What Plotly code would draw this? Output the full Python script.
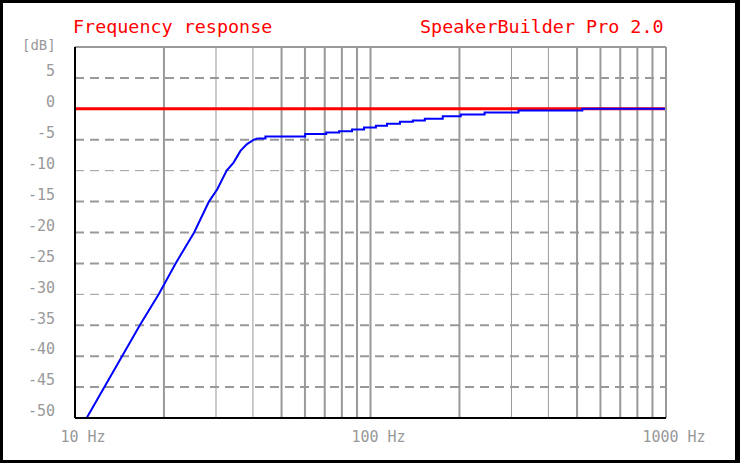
import plotly.graph_objects as go

# ---------------- data ----------------
# steep (high-pass) part of the response
steep_freq = [10.95, 12.55, 14.37, 16.57, 19.2, 21.9, 25.3, 28.4, 30.3, 32.6, 34.4, 36.3, 38.2, 40.3, 41.4]
steep_db = [-50, -45, -40, -35, -30, -25, -20, -15, -13.0, -10, -8.7, -6.8, -5.7, -5.0, -4.8]
# flat, stair-stepped part of the response
step_freq = [41.4, 44.1, 60.1, 70.8, 78.3, 86.6, 95.1, 104.3, 113.7, 125.8, 139.1,
             152.7, 175.6, 202.0, 243.3, 316.8, 521, 1000]
step_db = [-4.81, -4.48, -4.09, -3.83, -3.61, -3.35, -3.03, -2.75, -2.43, -2.10, -1.89,
           -1.62, -1.18, -0.92, -0.60, -0.28, 0.0, 0.0]
# 0 dB reference line
ref_freq = [10, 1000]
ref_db = [0, 0]

# axes / grid
x_ticks = [10, 100, 1000]
x_ticktext = ["10 Hz", "100 Hz", "1000 Hz"]
y_ticks = [-50, -45, -40, -35, -30, -25, -20, -15, -10, -5, 0, 5]
y_ticktext = ["-50", "-45", "-40", "-35", "-30", "-25", "-20", "-15", "-10", "-5", "0", "5"]
grid_thick_freq = [20, 50, 60, 70, 80, 90, 100, 200, 500, 600, 700, 800, 900]
grid_thin_freq = [30, 40, 300, 400]
grid_thick_db = [5, -5, -15, -20, -25, -35, -40, -45]
grid_thin_db = [-10, -30]
x_range = [10, 1000]
y_range = [-50, 10]

GRID = "#999999"
FONT = "DejaVu Sans Mono"


def vlines(freqs):
    xs, ys = [], []
    for f in freqs:
        xs += [f, f, None]
        ys += [y_range[0], y_range[1], None]
    return xs, ys


def hlines(dbs):
    xs, ys = [], []
    for d in dbs:
        xs += [x_range[0], x_range[1], None]
        ys += [d, d, None]
    return xs, ys


fig = go.Figure()

for dbs, w in [(grid_thick_db, 2), (grid_thin_db, 1)]:
    xs, ys = hlines(dbs)
    fig.add_trace(go.Scatter(x=xs, y=ys, mode="lines", hoverinfo="skip",
                             line=dict(color=GRID, width=w, dash="9px,6px")))
for freqs, w in [(grid_thick_freq, 2), (grid_thin_freq, 1)]:
    xs, ys = vlines(freqs)
    fig.add_trace(go.Scatter(x=xs, y=ys, mode="lines", hoverinfo="skip",
                             line=dict(color=GRID, width=w)))

fig.add_trace(go.Scatter(x=ref_freq, y=ref_db, mode="lines",
                         line=dict(color="#ff0000", width=3)))
fig.add_trace(go.Scatter(x=steep_freq, y=steep_db, mode="lines",
                         line=dict(color="#0000ff", width=2)))
fig.add_trace(go.Scatter(x=step_freq, y=step_db, mode="lines",
                         line=dict(color="#0000ff", width=2, shape="hv")))

W, H = 740, 463
L, R, T, B = 75, 74, 47, 45
pw, ph = W - L - R, H - T - B


def px(x):
    return (x - L) / pw


def py(y):
    return (H - B - y) / ph


shapes = [
    # white card on black background
    dict(type="rect", xref="paper", yref="paper", layer="below",
         x0=px(3), x1=px(735), y0=py(3), y1=py(460),
         fillcolor="white", line=dict(width=0)),
    # frame
    dict(type="line", xref="paper", yref="paper", layer="above",
         x0=0, x1=1, y0=1, y1=1, line=dict(color=GRID, width=2)),
    dict(type="line", xref="paper", yref="paper", layer="above",
         x0=1, x1=1, y0=0, y1=1, line=dict(color=GRID, width=2)),
    dict(type="line", xref="paper", yref="paper", layer="above",
         x0=0, x1=0, y0=0, y1=1, line=dict(color="black", width=2)),
    dict(type="line", xref="paper", yref="paper", layer="above",
         x0=0, x1=1, y0=0, y1=0, line=dict(color="black", width=2)),
]

annotations = [
    dict(text="Frequency response", xref="paper", yref="paper", x=0, y=1,
         xanchor="left", yanchor="middle", xshift=-4, yshift=21, showarrow=False,
         font=dict(family=FONT, size=18.4, color="#ff0000")),
    dict(text="SpeakerBuilder Pro 2.0", xref="paper", yref="paper", x=1, y=1,
         xanchor="right", yanchor="middle", xshift=0, yshift=21, showarrow=False,
         font=dict(family=FONT, size=18.4, color="#ff0000")),
    dict(text="[dB]", xref="paper", yref="paper", x=0, y=1,
         xanchor="right", yanchor="middle", xshift=-17, yshift=2, showarrow=False,
         font=dict(family=FONT, size=14, color=GRID)),
]

fig.update_layout(
    width=W, height=H,
    margin=dict(l=L, r=R, t=T, b=B, pad=0),
    paper_bgcolor="black",
    plot_bgcolor="white",
    showlegend=False,
    shapes=shapes,
    annotations=annotations,
    xaxis=dict(type="log", range=[1, 3], showgrid=False, zeroline=False,
               showline=False, tickvals=x_ticks, ticktext=x_ticktext,
               ticks="", ticklabelshift=8, ticklabelstandoff=8,
               tickfont=dict(family=FONT, size=15, color=GRID)),
    yaxis=dict(range=y_range, showgrid=False, zeroline=False, showline=False,
               tickvals=y_ticks, ticktext=y_ticktext, ticks="",
               ticklabelshift=-7, ticklabelstandoff=19,
               tickfont=dict(family=FONT, size=15, color=GRID)),
)

fig.write_html("out.html", config={"displayModeBar": False},
               post_script="document.body.style.margin='0px';document.body.style.overflow='hidden';")
